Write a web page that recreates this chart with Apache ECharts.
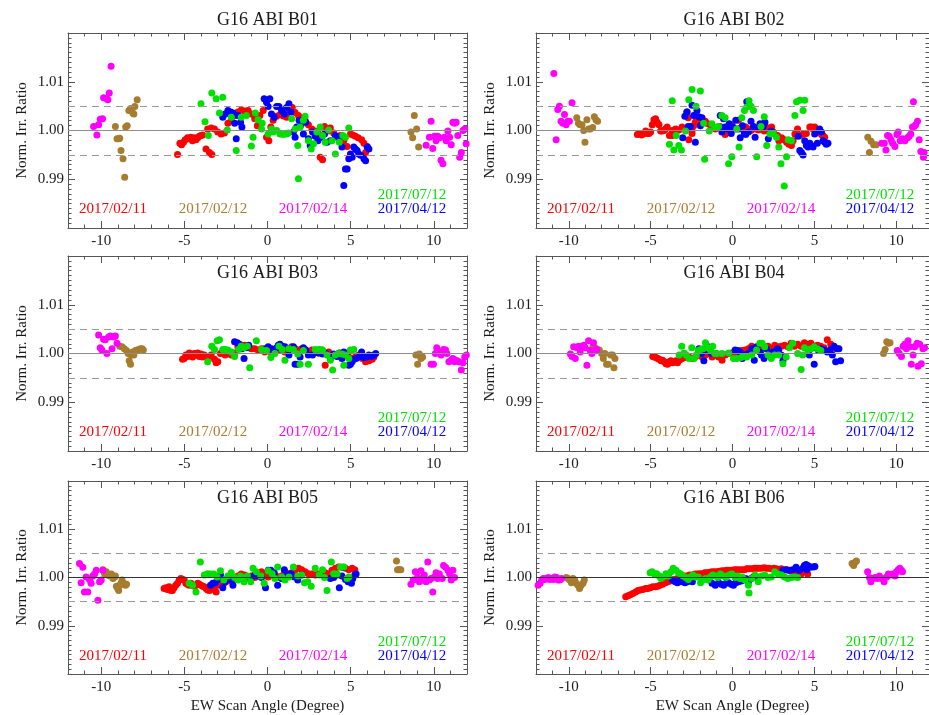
<!DOCTYPE html>
<html>
<head>
<meta charset="utf-8">
<script src="https://cdn.jsdelivr.net/npm/echarts@6/dist/echarts.min.js"></script>
<style>
html, body { margin: 0; padding: 0; background: #fff; }
#main { width: 929px; height: 715px; }
</style>
</head>
<body>
<div id="main"></div>
<script>
// axes / labels
var xTicks = [-10, -5, 0, 5, 10];
var xRange = [-12, 12];
var yRange = [0.98, 1.02];
var refLevels = [1.0, 1.005, 0.995];
var bands = ['G16 ABI B01', 'G16 ABI B02', 'G16 ABI B03', 'G16 ABI B04', 'G16 ABI B05', 'G16 ABI B06'];
var dates = ['2017/02/11', '2017/02/12', '2017/02/14', '2017/04/12', '2017/07/12'];
var dateColors = ['#ff0000', '#a67c2e', '#ff00ff', '#0000ff', '#00e000'];

// ---- B01 ----
var b01_0211 = [[-5.41,0.9951],[-5.27,0.9974],[-5.17,0.9971],[-5.05,0.9976],[-4.95,0.9981],[-4.81,0.9985],[-4.71,0.9983],[-4.61,0.9986],[-4.51,0.9979],[-4.40,0.9985],[-4.30,0.9981],[-4.20,0.9985],[-4.10,0.9988],[-4.00,0.9990],[-3.90,0.9991],[-3.70,0.9962],[-3.49,0.9955],[-3.35,0.9951],[-3.60,1.0003],[-3.39,1.0005],[-3.19,1.0003],[-2.99,0.9997],[-2.79,0.9993],[-2.59,0.9995],[-2.38,1.0015],[-2.18,1.0021],[-1.98,1.0031],[-1.78,1.0038],[-1.58,1.0042],[-1.37,1.0040],[-1.17,1.0041],[-0.97,1.0034],[-0.77,1.0024],[-0.61,1.0010],[-0.46,1.0031],[-0.26,1.0041],[-0.06,0.9986],[0.08,0.9979],[0.20,1.0007],[0.34,1.0021],[0.55,1.0029],[0.75,1.0033],[0.95,1.0030],[1.15,1.0027],[1.35,1.0041],[1.49,1.0047],[1.66,1.0037],[1.86,1.0031],[2.06,1.0026],[2.26,1.0021],[2.46,1.0012],[2.67,1.0003],[2.87,0.9999],[3.07,0.9993],[3.17,0.9945],[3.31,0.9940],[3.43,1.0008],[3.64,0.9999],[3.78,1.0005],[3.98,0.9995],[4.18,0.9986],[4.38,0.9990],[4.59,0.9979],[4.79,0.9967],[4.99,0.9993],[5.13,0.9991],[5.29,0.9988],[5.45,0.9985],[5.66,0.9981],[5.80,0.9974],[5.90,0.9955],[6.00,0.9967]];
var b01_0212 = [[-9.15,1.0008],[-9.05,0.9983],[-8.95,0.9983],[-8.89,0.9984],[-8.81,0.9959],[-8.69,0.9942],[-8.59,0.9904],[-8.53,1.0007],[-8.44,1.0010],[-8.34,1.0041],[-8.24,1.0045],[-8.10,1.0036],[-8.04,1.0034],[-7.98,1.0049],[-7.84,1.0063],[8.63,0.9997],[8.73,0.9985],[8.83,1.0031],[8.97,1.0003],[9.09,0.9966]];
var b01_0214 = [[-10.46,1.0008],[-10.26,0.9991],[-10.16,1.0012],[-10.06,1.0023],[-9.92,1.0024],[-9.86,1.0067],[-9.66,1.0065],[-9.60,1.0063],[-9.52,1.0077],[-9.41,1.0132],[9.54,0.9970],[9.74,0.9986],[9.84,1.0019],[9.94,0.9963],[10.04,0.9988],[10.14,0.9979],[10.24,0.9988],[10.34,0.9985],[10.44,0.9939],[10.55,0.9932],[10.65,0.9986],[10.75,0.9979],[10.85,0.9999],[10.95,0.9986],[11.05,0.9971],[11.15,1.0017],[11.25,1.0015],[11.35,1.0017],[11.45,0.9990],[11.56,0.9945],[11.66,0.9955],[11.76,1.0000],[11.86,1.0003],[11.95,0.9973]];
var b01_0412 = [[-2.69,1.0027],[-2.55,1.0034],[-2.38,1.0041],[-2.22,1.0038],[-2.08,1.0036],[-1.98,1.0015],[-1.88,0.9983],[-1.78,1.0031],[-1.62,1.0017],[-1.54,1.0007],[-0.20,1.0065],[-0.06,1.0058],[0.04,1.0049],[0.14,1.0065],[0.24,1.0034],[0.40,1.0027],[0.55,1.0049],[0.69,1.0049],[0.85,1.0041],[1.01,1.0034],[1.15,1.0047],[1.29,1.0055],[1.41,1.0038],[1.56,0.9997],[1.66,0.9986],[1.76,1.0007],[1.90,1.0021],[2.02,1.0012],[2.16,0.9993],[2.30,1.0017],[2.46,0.9983],[2.57,0.9969],[2.71,0.9997],[2.87,0.9988],[3.03,0.9979],[3.17,0.9985],[3.27,0.9988],[3.43,0.9993],[3.58,0.9976],[3.78,0.9979],[4.08,0.9990],[4.28,0.9986],[4.48,0.9966],[4.69,0.9921],[4.79,0.9921],[4.89,0.9942],[4.99,0.9952],[5.09,0.9945],[5.19,0.9966],[5.29,0.9962],[5.39,0.9959],[5.49,0.9952],[5.60,0.9949],[5.80,0.9942],[5.90,0.9938],[6.00,0.9966],[6.10,0.9962],[4.59,0.9887]];
var b01_0712 = [[-4.00,1.0055],[-3.76,1.0018],[-3.56,0.9990],[-3.35,1.0077],[-3.09,1.0065],[-2.89,1.0036],[-2.69,1.0068],[-2.42,1.0001],[-2.18,1.0027],[-1.88,0.9959],[-1.58,1.0027],[-1.27,1.0031],[-0.97,0.9968],[-0.87,0.9986],[-0.73,1.0036],[-0.57,1.0022],[-0.36,1.0003],[-0.32,1.0015],[0.04,0.9993],[0.24,1.0003],[0.34,0.9997],[0.55,1.0000],[0.75,0.9993],[0.95,0.9992],[1.15,0.9993],[1.25,0.9995],[1.45,1.0024],[1.66,1.0003],[1.82,0.9969],[1.96,1.0007],[2.16,1.0021],[2.26,1.0029],[2.46,0.9979],[2.63,0.9962],[2.77,0.9973],[2.97,0.9997],[3.17,1.0007],[3.31,0.9990],[3.47,0.9976],[3.68,1.0001],[3.88,0.9979],[4.08,0.9952],[4.32,0.9976],[4.53,0.9990],[4.69,0.9986],[4.89,1.0005],[1.86,0.9901]];

// ---- B02 ----
var b02_0211 = [[-5.81,0.9992],[-5.67,0.9994],[-5.55,0.9991],[-5.40,0.9994],[-5.30,0.9999],[-5.20,0.9994],[-5.10,0.9994],[-5.00,0.9997],[-4.90,1.0012],[-4.80,1.0022],[-4.70,1.0024],[-4.60,1.0017],[-4.49,1.0012],[-4.39,0.9999],[-4.29,0.9999],[-4.19,1.0000],[-4.09,1.0003],[-3.99,1.0007],[-3.85,0.9990],[-3.68,1.0000],[-3.48,1.0003],[-3.28,1.0001],[-3.08,1.0007],[-2.87,1.0003],[-2.77,1.0038],[-2.71,1.0026],[-2.63,1.0003],[-2.47,1.0000],[-2.37,1.0010],[-2.27,1.0017],[-2.17,1.0021],[-2.06,1.0024],[-1.96,1.0026],[-1.86,1.0021],[-1.76,1.0019],[-1.66,1.0019],[-1.50,1.0014],[-1.36,1.0012],[-1.21,1.0008],[-1.05,1.0003],[-0.89,1.0007],[-0.75,1.0008],[-0.61,1.0001],[-0.45,0.9992],[-0.24,1.0007],[-0.04,1.0012],[0.16,1.0003],[0.36,1.0021],[0.53,1.0006],[0.67,1.0001],[0.81,1.0007],[0.97,1.0003],[1.13,1.0000],[1.28,1.0007],[1.42,1.0003],[1.58,1.0001],[1.78,1.0003],[1.94,0.9999],[2.09,1.0006],[2.23,1.0000],[2.39,1.0007],[2.49,0.9997],[2.63,0.9991],[2.75,0.9990],[2.83,0.9979],[3.00,0.9985],[3.16,0.9981],[3.30,0.9976],[3.44,0.9972],[3.60,0.9969],[3.70,0.9979],[3.81,0.9993],[3.97,1.0003],[4.11,0.9990],[4.31,0.9993],[4.51,0.9994],[4.72,1.0007],[4.82,1.0007],[4.92,1.0003],[5.02,1.0007],[5.22,0.9999],[5.32,0.9997],[5.43,0.9992],[5.53,0.9990],[5.63,0.9986],[-2.67,0.9981],[-2.47,0.9994],[-3.68,0.9990]];
var b02_0212 = [[-9.51,1.0026],[-9.41,1.0015],[-9.31,1.0012],[-9.19,1.0012],[-9.09,1.0000],[-9.01,0.9976],[-8.89,1.0022],[-8.79,1.0003],[-8.68,1.0003],[-8.54,1.0006],[-8.44,1.0028],[-8.34,1.0022],[-8.24,1.0019],[8.26,0.9986],[8.36,0.9955],[8.46,0.9978],[8.62,0.9971],[8.77,0.9971]];
var b02_0214 = [[-10.91,1.0117],[-10.77,0.9981],[-10.67,1.0043],[-10.57,1.0050],[-10.47,1.0019],[-10.36,1.0015],[-10.26,1.0033],[-10.16,1.0012],[-10.06,1.0019],[-9.96,1.0019],[-9.80,1.0057],[9.11,0.9974],[9.27,0.9974],[9.37,0.9960],[9.47,0.9990],[9.57,0.9988],[9.68,0.9981],[9.78,0.9974],[9.92,0.9967],[10.04,0.9992],[10.12,0.9997],[10.24,0.9979],[10.38,0.9983],[10.53,0.9979],[10.69,0.9985],[10.79,0.9988],[10.89,0.9993],[10.99,1.0007],[11.09,1.0008],[11.19,1.0012],[11.30,1.0019],[11.05,1.0059],[11.40,0.9981],[11.50,0.9957],[11.66,0.9945],[11.70,0.9955]];
var b02_0412 = [[-3.04,0.9985],[-2.91,1.0029],[-2.79,1.0038],[-2.71,1.0008],[-2.57,1.0008],[-2.47,1.0052],[-2.37,1.0031],[-2.27,0.9976],[-2.17,1.0041],[-2.06,1.0028],[-1.96,1.0010],[-1.86,1.0026],[-0.75,1.0031],[-0.65,0.9997],[-0.55,1.0024],[-0.45,1.0007],[-0.28,1.0003],[-0.20,1.0014],[-0.08,0.9994],[0.06,1.0006],[0.20,1.0021],[0.36,1.0003],[0.47,0.9985],[0.61,1.0010],[0.73,0.9994],[0.81,0.9992],[0.87,1.0059],[0.97,0.9997],[1.13,1.0019],[1.28,1.0008],[1.38,0.9986],[1.58,1.0006],[1.68,1.0014],[1.88,1.0008],[1.98,1.0017],[2.19,0.9983],[2.35,0.9999],[4.01,0.9988],[4.11,0.9959],[4.21,0.9955],[4.31,0.9950],[4.41,0.9979],[4.51,0.9969],[4.62,0.9966],[4.72,0.9974],[4.82,0.9969],[4.92,0.9966],[5.02,0.9993],[5.18,0.9974],[5.32,1.0003],[5.43,0.9997],[5.53,0.9979],[5.63,0.9976],[5.73,0.9972],[5.83,0.9974]];
var b02_0712 = [[-3.85,0.9972],[-3.68,1.0061],[-3.58,0.9960],[-3.44,0.9990],[-3.28,0.9969],[-3.12,0.9960],[-2.87,0.9999],[-2.67,1.0063],[-2.47,1.0084],[-2.23,1.0050],[-1.96,1.0081],[-1.76,1.0015],[-1.70,0.9941],[-1.42,0.9999],[-1.26,1.0014],[-1.09,1.0006],[-0.85,1.0008],[-0.65,1.0031],[-0.45,1.0026],[-0.24,0.9932],[-0.04,0.9946],[0.26,1.0003],[0.40,0.9966],[0.57,1.0026],[0.73,1.0041],[0.87,1.0048],[1.01,1.0061],[1.13,1.0050],[1.28,1.0041],[1.48,0.9946],[1.74,1.0008],[1.94,1.0028],[2.09,0.9969],[2.29,0.9993],[2.49,0.9994],[2.69,0.9986],[2.83,0.9966],[2.96,0.9932],[3.16,0.9886],[3.30,0.9946],[3.40,0.9981],[3.60,0.9979],[3.81,1.0031],[3.91,1.0059],[4.11,1.0062],[4.31,1.0041],[4.41,1.0062]];

// ---- B03 ----
var b03_0211 = [[-5.11,0.9988],[-5.01,0.9990],[-4.91,0.9997],[-4.81,0.9994],[-4.71,1.0001],[-4.61,0.9999],[-4.51,0.9993],[-4.40,1.0000],[-4.30,0.9997],[-4.20,1.0001],[-4.10,0.9994],[-4.00,0.9999],[-3.90,0.9993],[-3.80,0.9997],[-3.60,0.9992],[-3.39,0.9997],[-3.19,0.9988],[-3.09,0.9981],[-2.99,0.9983],[-2.83,1.0000],[-2.69,1.0001],[-2.55,0.9997],[-2.38,1.0003],[-2.18,0.9997],[-1.98,1.0001],[-1.78,1.0014],[-1.58,1.0015],[-1.37,1.0017],[-1.17,1.0014],[-0.97,1.0010],[-0.77,1.0010],[-0.57,1.0007],[-0.36,1.0010],[-0.16,1.0003],[0.04,1.0007],[0.24,1.0001],[0.44,1.0003],[0.65,1.0006],[0.85,1.0007],[1.05,1.0003],[1.25,1.0010],[1.45,1.0014],[1.66,1.0010],[1.86,1.0007],[2.06,1.0010],[2.26,1.0007],[2.46,1.0003],[2.67,1.0007],[2.87,1.0003],[3.07,1.0001],[3.27,1.0007],[3.47,0.9976],[3.58,1.0000],[3.68,1.0003],[3.88,0.9997],[4.08,0.9997],[4.28,1.0000],[4.48,0.9997],[4.69,1.0001],[4.89,0.9993],[5.09,0.9990],[5.29,0.9993],[5.49,0.9997],[5.70,0.9990],[5.90,0.9983],[6.10,0.9985],[6.30,0.9988],[6.40,0.9993]];
var b03_0212 = [[-8.89,1.0015],[-8.75,1.0014],[-8.61,1.0010],[-8.48,1.0006],[-8.38,1.0000],[-8.32,0.9985],[-8.24,0.9978],[-8.18,0.9997],[-8.10,1.0003],[-8.04,0.9997],[-7.94,1.0006],[-7.84,1.0007],[-7.74,1.0008],[-7.64,1.0010],[-7.54,1.0010],[-7.47,1.0007],[8.93,0.9997],[9.03,0.9978],[9.13,0.9999],[9.23,0.9990],[9.33,0.9993]];
var b03_0214 = [[-10.16,1.0038],[-10.06,1.0012],[-9.96,1.0007],[-9.86,1.0029],[-9.76,1.0028],[-9.66,1.0000],[-9.56,1.0034],[-9.45,1.0036],[-9.35,1.0010],[-9.25,1.0034],[-9.15,1.0036],[-9.05,1.0021],[9.84,0.9978],[9.98,0.9978],[10.10,1.0000],[10.18,1.0012],[10.30,1.0003],[10.44,0.9997],[10.59,1.0008],[10.71,1.0007],[10.79,1.0000],[10.91,0.9983],[11.05,0.9986],[11.15,0.9990],[11.25,0.9983],[11.35,0.9986],[11.52,0.9983],[11.66,0.9966],[11.76,0.9981],[11.86,0.9993],[11.96,0.9997]];
var b03_0412 = [[-1.98,1.0024],[-1.82,1.0022],[-1.68,1.0019],[-1.54,1.0010],[-1.41,0.9990],[-1.27,1.0012],[-1.13,1.0017],[-0.16,1.0010],[0.04,1.0014],[0.24,1.0010],[0.34,1.0007],[0.55,1.0012],[0.65,1.0017],[0.75,1.0019],[0.89,1.0015],[1.05,1.0014],[1.29,0.9997],[1.56,1.0014],[1.66,0.9978],[1.82,0.9978],[1.96,0.9993],[2.16,1.0012],[2.30,1.0007],[2.46,0.9997],[2.71,0.9997],[2.87,1.0003],[3.07,1.0001],[3.31,0.9999],[3.52,1.0000],[3.78,0.9990],[3.98,0.9999],[4.18,0.9994],[4.32,1.0001],[4.48,0.9990],[4.59,1.0003],[4.73,0.9997],[4.89,0.9976],[4.99,0.9978],[5.09,0.9983],[5.19,0.9988],[5.33,0.9990],[5.49,0.9993],[5.66,1.0003],[5.80,0.9992],[5.94,0.9993],[6.10,0.9997],[6.26,0.9994],[6.40,0.9997],[6.51,1.0000]];
var b03_0712 = [[-3.60,0.9983],[-3.35,1.0015],[-3.19,1.0008],[-3.03,1.0026],[-2.89,1.0028],[-2.69,1.0008],[-2.55,1.0008],[-2.38,1.0007],[-2.18,1.0003],[-1.98,0.9994],[-1.74,1.0008],[-1.58,1.0015],[-1.41,1.0012],[-1.21,1.0015],[-1.07,0.9971],[-0.67,1.0026],[-0.36,1.0008],[-0.06,1.0006],[0.20,0.9992],[0.44,1.0000],[0.69,1.0015],[0.89,1.0008],[1.05,0.9986],[1.29,1.0010],[1.56,1.0008],[1.82,0.9999],[1.96,0.9978],[2.16,1.0006],[2.46,0.9978],[2.87,1.0008],[3.11,1.0008],[3.31,1.0007],[3.58,0.9997],[3.78,0.9986],[3.92,0.9966],[4.08,0.9997],[4.28,1.0000],[4.48,0.9999],[4.69,0.9997],[4.89,0.9990],[4.99,1.0007],[5.19,1.0008],[4.59,0.9976]];

// ---- B04 ----
var b04_0211 = [[-4.87,0.9994],[-4.77,0.9993],[-4.67,0.9992],[-4.57,0.9990],[-4.47,0.9988],[-4.37,0.9985],[-4.27,0.9986],[-4.16,0.9983],[-4.06,0.9979],[-3.96,0.9978],[-3.86,0.9983],[-3.76,0.9985],[-3.66,0.9981],[-3.56,0.9983],[-3.46,0.9985],[-3.36,0.9981],[-3.26,0.9986],[-3.16,0.9988],[-3.06,0.9990],[-2.86,0.9992],[-2.66,0.9993],[-2.45,0.9990],[-2.25,0.9994],[-2.05,0.9997],[-1.85,0.9993],[-1.65,0.9997],[-1.45,1.0000],[-1.25,0.9993],[-1.05,0.9997],[-0.85,0.9993],[-0.64,0.9986],[-0.44,0.9997],[-0.24,1.0000],[-0.04,1.0001],[0.16,1.0000],[0.36,0.9999],[0.56,1.0006],[0.76,1.0007],[0.97,1.0010],[1.17,1.0015],[1.37,1.0012],[1.57,1.0007],[1.77,1.0010],[1.97,1.0012],[2.17,1.0015],[2.37,1.0010],[2.58,1.0017],[2.78,1.0014],[2.98,1.0015],[3.18,1.0017],[3.38,1.0014],[3.58,1.0021],[3.78,1.0015],[3.98,1.0019],[4.19,1.0015],[4.39,1.0022],[4.59,1.0019],[4.79,1.0021],[4.99,1.0015],[5.19,1.0017],[5.39,1.0015],[5.59,1.0012],[5.79,1.0028],[6.00,1.0019],[6.20,1.0014],[6.30,1.0010]];
var b04_0212 = [[-8.53,1.0014],[-8.39,1.0012],[-8.25,1.0008],[-8.13,1.0007],[-7.99,1.0000],[-7.89,0.9990],[-7.79,1.0000],[-7.69,0.9978],[-7.59,0.9978],[-7.44,0.9997],[-7.32,0.9997],[-7.24,0.9971],[-7.18,0.9990],[9.22,1.0000],[9.32,1.0008],[9.42,1.0024],[9.52,1.0021],[9.62,1.0022]];
var b04_0214 = [[-9.90,0.9999],[-9.80,0.9994],[-9.70,1.0014],[-9.60,0.9990],[-9.50,1.0012],[-9.40,1.0015],[-9.30,1.0003],[-9.20,1.0014],[-9.09,1.0017],[-8.99,1.0012],[-8.89,0.9976],[-8.79,1.0026],[-8.69,1.0006],[-8.59,1.0000],[-8.49,1.0022],[-8.39,1.0007],[-8.29,1.0008],[10.06,1.0006],[10.18,1.0000],[10.32,0.9994],[10.42,1.0015],[10.52,1.0019],[10.62,1.0010],[10.72,1.0026],[10.82,1.0014],[10.92,0.9978],[11.03,0.9997],[11.13,1.0014],[11.27,1.0021],[11.33,0.9974],[11.43,1.0019],[11.53,0.9979],[11.63,1.0010],[11.73,1.0012]];
var b04_0412 = [[-2.05,1.0010],[-1.89,1.0000],[-1.75,0.9985],[-1.61,1.0007],[-1.49,1.0014],[-1.35,1.0003],[-1.25,1.0000],[0.16,1.0007],[0.32,1.0006],[0.46,1.0003],[0.60,0.9990],[0.76,0.9997],[0.97,1.0000],[1.17,1.0010],[1.33,0.9986],[1.47,1.0014],[1.67,1.0003],[1.77,0.9997],[1.93,0.9990],[2.07,1.0010],[2.27,1.0000],[2.47,1.0003],[2.74,1.0010],[2.82,1.0007],[2.98,0.9997],[3.08,0.9985],[4.69,0.9997],[4.89,1.0012],[4.99,0.9978],[5.09,1.0012],[5.23,1.0007],[5.39,1.0010],[5.59,1.0007],[5.79,1.0003],[5.96,1.0007],[6.10,0.9997],[6.20,1.0015],[6.30,0.9983],[6.40,1.0010],[6.50,1.0010],[6.60,0.9985]];
var b04_0712 = [[-3.26,0.9997],[-3.10,1.0015],[-2.96,1.0001],[-2.82,0.9997],[-2.66,0.9990],[-2.49,1.0012],[-2.35,0.9990],[-2.21,0.9997],[-2.09,1.0006],[-1.95,1.0008],[-1.81,1.0010],[-1.65,1.0022],[-1.49,1.0012],[-1.35,1.0007],[-1.21,1.0015],[-1.09,1.0000],[-0.95,1.0000],[-0.64,1.0000],[-0.24,1.0001],[0.06,0.9990],[0.26,0.9990],[0.52,0.9992],[0.72,0.9994],[0.87,0.9993],[1.17,0.9997],[1.47,1.0007],[1.67,1.0021],[1.81,1.0021],[1.97,1.0014],[2.17,0.9997],[2.37,0.9990],[2.58,0.9997],[2.82,0.9997],[3.08,0.9979],[3.28,0.9993],[3.48,1.0012],[3.68,1.0021],[3.98,1.0000],[4.19,0.9967],[4.39,1.0012],[4.59,1.0007],[4.79,1.0010],[4.99,1.0014],[5.19,1.0010],[5.39,1.0006],[4.29,0.9997]];

// ---- B05 ----
var b05_0211 = [[-6.22,0.9977],[-6.12,0.9979],[-6.02,0.9975],[-5.92,0.9981],[-5.82,0.9973],[-5.72,0.9973],[-5.62,0.9979],[-5.52,0.9984],[-5.41,0.9988],[-5.31,0.9995],[-5.21,0.9998],[-5.11,0.9996],[-5.01,0.9995],[-4.91,0.9988],[-4.81,0.9986],[-4.71,0.9984],[-4.61,0.9988],[-4.51,0.9984],[-4.40,0.9982],[-4.30,0.9984],[-4.20,0.9988],[-4.10,0.9986],[-4.00,0.9984],[-3.90,0.9982],[-3.80,0.9981],[-3.70,0.9977],[-3.60,0.9974],[-3.49,0.9973],[-3.39,0.9975],[-3.19,0.9981],[-3.09,0.9970],[-2.99,0.9984],[-2.79,0.9988],[-2.59,0.9989],[-2.38,0.9993],[-2.18,0.9998],[-1.98,0.9996],[-1.78,1.0003],[-1.58,1.0007],[-1.37,1.0005],[-1.17,1.0001],[-0.97,1.0003],[-0.77,1.0000],[-0.57,1.0008],[-0.36,1.0012],[-0.16,1.0007],[0.04,1.0001],[0.24,1.0010],[0.44,1.0005],[0.65,1.0001],[0.85,1.0003],[1.05,1.0012],[1.25,1.0008],[1.45,1.0010],[1.66,1.0015],[1.86,1.0019],[2.06,1.0016],[2.26,1.0012],[2.46,1.0008],[2.67,1.0007],[2.87,1.0005],[3.07,1.0007],[3.27,1.0008],[3.47,1.0010],[3.68,1.0007],[3.88,1.0015],[4.08,1.0019],[4.28,1.0022],[4.48,1.0021],[4.69,1.0019],[4.89,1.0016],[5.09,1.0019],[5.25,1.0016]];
var b05_0212 = [[-9.90,1.0016],[-9.80,1.0008],[-9.70,1.0012],[-9.60,1.0005],[-9.49,1.0003],[-9.39,1.0007],[-9.29,0.9998],[-9.19,1.0001],[-9.15,1.0003],[-9.09,0.9982],[-9.01,0.9977],[-8.95,0.9973],[-8.89,0.9984],[-8.81,0.9988],[-8.75,0.9995],[-8.65,0.9988],[-8.55,0.9984],[-8.48,0.9986],[7.76,1.0034],[7.82,1.0016],[7.92,1.0016],[8.02,1.0016]];
var b05_0214 = [[-11.31,1.0029],[-11.21,0.9989],[-11.11,1.0021],[-11.01,0.9970],[-10.91,1.0001],[-10.81,0.9970],[-10.71,0.9996],[-10.61,0.9988],[-10.51,1.0003],[-10.40,1.0007],[-10.30,1.0015],[-10.20,0.9953],[-10.10,0.9991],[-10.00,0.9995],[-9.90,1.0015],[8.63,0.9986],[8.77,0.9995],[8.89,1.0012],[9.03,1.0001],[9.13,0.9991],[9.23,1.0014],[9.33,0.9995],[9.43,1.0005],[9.54,0.9991],[9.64,1.0032],[9.74,0.9995],[9.84,0.9998],[9.94,0.9970],[10.04,1.0001],[10.14,1.0010],[10.24,0.9998],[10.34,1.0007],[10.51,0.9998],[10.59,1.0025],[10.71,1.0021],[10.85,1.0015],[10.95,1.0008],[11.05,0.9995],[11.15,1.0015],[11.25,1.0000]];
var b05_0412 = [[-3.43,0.9984],[-3.29,0.9988],[-3.15,0.9989],[-2.99,0.9996],[-2.83,1.0005],[-2.69,0.9979],[-2.55,0.9991],[-2.38,1.0000],[-2.22,0.9996],[-2.08,0.9984],[-1.17,1.0001],[-0.97,1.0000],[-0.77,1.0005],[-0.57,1.0003],[-0.36,1.0000],[-0.12,0.9979],[0.04,1.0015],[0.20,1.0015],[0.40,1.0010],[0.61,0.9984],[0.85,0.9998],[1.01,1.0016],[1.21,1.0005],[1.41,1.0008],[1.62,1.0001],[1.82,0.9995],[2.06,1.0005],[3.78,0.9998],[3.98,1.0000],[4.18,1.0005],[4.32,0.9979],[4.48,1.0003],[4.59,1.0021],[4.69,0.9996],[4.85,0.9991],[4.99,0.9995],[5.13,0.9998],[5.25,1.0005],[5.33,1.0007],[5.05,0.9988]];
var b05_0712 = [[-4.71,0.9988],[-4.51,0.9984],[-4.30,0.9970],[-4.04,1.0032],[-3.80,1.0005],[-3.60,1.0008],[-3.43,1.0007],[-3.23,1.0007],[-3.03,1.0001],[-2.83,1.0014],[-2.63,0.9995],[-2.38,1.0003],[-2.18,1.0010],[-1.98,1.0000],[-1.78,0.9995],[-1.62,1.0003],[-1.41,0.9991],[-1.21,1.0003],[-1.01,0.9991],[-0.87,1.0019],[-0.67,1.0012],[-0.40,1.0003],[-0.20,0.9988],[0.04,1.0014],[0.28,1.0008],[0.44,0.9998],[0.61,1.0022],[0.85,1.0001],[1.05,0.9995],[1.29,1.0001],[1.56,1.0022],[1.82,1.0003],[2.06,1.0005],[2.22,0.9989],[2.42,0.9991],[2.63,0.9982],[2.87,1.0019],[3.11,1.0005],[3.31,1.0016],[3.43,1.0000],[3.58,0.9973],[3.84,1.0032],[3.98,1.0008],[4.18,1.0007],[4.38,1.0022],[4.59,1.0022],[4.79,0.9998],[4.89,1.0001]];

// ---- B06 ----
var b06_0211 = [[-6.52,0.9960],[-6.38,0.9962],[-6.24,0.9964],[-6.08,0.9967],[-5.92,0.9970],[-5.77,0.9973],[-5.63,0.9974],[-5.47,0.9975],[-5.31,0.9977],[-5.17,0.9977],[-5.03,0.9979],[-4.87,0.9981],[-4.71,0.9981],[-4.57,0.9982],[-4.43,0.9984],[-4.27,0.9986],[-4.10,0.9989],[-3.96,0.9991],[-3.82,0.9993],[-3.66,0.9995],[-3.50,0.9996],[-3.36,0.9998],[-3.22,1.0000],[-3.06,1.0001],[-2.90,1.0003],[-2.76,1.0003],[-2.62,1.0005],[-2.45,1.0005],[-2.29,1.0007],[-2.15,1.0007],[-2.01,1.0008],[-1.85,1.0008],[-1.69,1.0010],[-1.55,1.0010],[-1.41,1.0011],[-1.25,1.0012],[-1.09,1.0012],[-0.95,1.0012],[-0.80,1.0013],[-0.64,1.0014],[-0.48,1.0014],[-0.34,1.0015],[-0.20,1.0015],[-0.04,1.0015],[0.12,1.0016],[0.26,1.0016],[0.40,1.0016],[0.56,1.0016],[0.72,1.0016],[0.87,1.0018],[1.01,1.0018],[1.17,1.0018],[1.33,1.0019],[1.47,1.0019],[1.61,1.0019],[1.77,1.0019],[1.93,1.0020],[2.07,1.0019],[2.21,1.0019],[2.37,1.0018],[2.54,1.0019],[2.68,1.0018],[2.82,1.0016],[2.98,1.0018],[3.14,1.0016],[3.28,1.0016],[3.42,1.0015],[3.58,1.0014],[3.74,1.0014],[3.88,1.0012],[4.02,1.0010],[4.19,1.0007],[4.14,1.0015],[4.39,1.0012],[4.59,1.0007]];
var b06_0212 = [[-10.14,1.0000],[-10.04,0.9998],[-9.94,0.9995],[-9.84,0.9989],[-9.74,0.9998],[-9.64,0.9995],[-9.54,0.9988],[-9.44,0.9984],[-9.34,0.9977],[-9.24,0.9984],[-9.13,0.9988],[-9.05,0.9995],[7.30,1.0029],[7.40,1.0025],[7.50,1.0032],[7.57,1.0034]];
var b06_0214 = [[-11.87,0.9984],[-11.75,0.9988],[-11.65,0.9995],[-11.55,0.9998],[-11.45,0.9996],[-11.35,0.9998],[-11.25,1.0000],[-11.15,0.9996],[-11.05,0.9998],[-10.95,0.9996],[-10.85,1.0001],[-10.74,1.0000],[-10.64,0.9995],[-10.54,0.9995],[-10.44,0.9998],[8.25,1.0012],[8.37,1.0000],[8.45,0.9991],[8.57,0.9998],[8.71,1.0000],[8.85,0.9998],[8.97,1.0003],[9.11,0.9998],[9.26,0.9991],[9.42,1.0001],[9.52,1.0007],[9.62,1.0005],[9.78,1.0007],[9.92,1.0003],[10.02,1.0012],[10.12,1.0016],[10.22,1.0019],[10.32,1.0015],[10.38,1.0012]];
var b06_0412 = [[-3.66,0.9995],[-3.50,0.9991],[-3.36,0.9989],[-3.22,0.9993],[-3.06,0.9991],[-2.90,0.9989],[-2.76,0.9991],[-2.62,0.9995],[-2.45,0.9991],[-1.25,0.9988],[-1.05,0.9984],[-0.85,0.9989],[-0.68,0.9986],[-0.54,0.9984],[-0.40,0.9988],[-0.24,0.9989],[-0.08,0.9986],[0.06,0.9984],[0.20,0.9989],[0.36,0.9991],[0.52,0.9993],[0.66,0.9995],[0.80,0.9998],[0.97,0.9991],[1.13,0.9998],[1.27,1.0001],[1.41,1.0003],[3.08,1.0015],[3.28,1.0016],[3.48,1.0015],[3.68,1.0016],[3.88,1.0021],[4.08,1.0015],[4.29,1.0019],[4.39,1.0025],[4.49,1.0027],[4.59,1.0025],[4.69,1.0022],[4.79,1.0022],[4.95,1.0022],[5.03,1.0023],[4.55,1.0016]];
var b06_0712 = [[-5.03,1.0010],[-4.91,1.0012],[-4.77,1.0007],[-4.63,1.0008],[-4.47,1.0003],[-4.37,0.9998],[-4.23,1.0001],[-4.06,1.0008],[-3.90,1.0003],[-3.76,1.0012],[-3.62,1.0019],[-3.46,1.0015],[-3.30,1.0010],[-3.16,1.0007],[-3.02,1.0003],[-2.86,1.0000],[-2.70,0.9996],[-2.56,1.0001],[-2.41,1.0005],[-2.25,1.0001],[-2.09,1.0001],[-1.95,0.9989],[-1.81,0.9995],[-1.65,0.9998],[-1.49,0.9995],[-1.35,1.0001],[-1.21,1.0005],[-1.05,1.0003],[-0.89,1.0000],[-0.74,1.0007],[-0.54,1.0003],[-0.40,1.0000],[-0.20,1.0005],[-0.04,1.0007],[0.16,1.0000],[0.32,1.0003],[0.46,0.9998],[0.60,1.0001],[0.76,0.9995],[0.97,0.9984],[1.01,0.9968],[1.17,0.9998],[1.37,1.0005],[1.57,0.9991],[1.77,1.0003],[1.97,1.0005],[2.17,1.0000],[2.37,1.0001],[2.58,1.0012],[2.78,1.0007],[2.98,1.0005],[3.18,1.0001],[3.38,0.9998],[3.58,1.0000],[3.78,1.0001],[3.98,1.0000]];

var bandData = [
    [b01_0211, b01_0212, b01_0214, b01_0412, b01_0712],
    [b02_0211, b02_0212, b02_0214, b02_0412, b02_0712],
    [b03_0211, b03_0212, b03_0214, b03_0412, b03_0712],
    [b04_0211, b04_0212, b04_0214, b04_0412, b04_0712],
    [b05_0211, b05_0212, b05_0214, b05_0412, b05_0712],
    [b06_0211, b06_0212, b06_0214, b06_0412, b06_0712]
];

// layout
var W = 929;
var colLeft = [68, 536];
var colRight = [462, -3];
var rowTop = [33, 256, 481];
var rowHeight = [195, 195, 194];
var labelDx = [45, 145, 245, 344, 344];
var labelDy = [19, 19, 19, 19, 33];
var serif = '"Liberation Serif", "DejaVu Serif", serif';
var frameColor = '#555';
var refColor = ['#8c8c8c', '#8c8c8c', '#333'];

var myChart = echarts.init(document.getElementById('main'));

var option = {
    backgroundColor: '#fff',
    animation: false,
    grid: [],
    xAxis: [],
    yAxis: [],
    series: [],
    graphic: []
};

function makeX(g, pos, major, withLabels, name) {
    return {
        gridIndex: g,
        type: 'value',
        position: pos,
        min: xRange[0],
        max: xRange[1],
        interval: 1,
        axisLine: { show: !major, onZero: false, lineStyle: { color: frameColor, width: 1 } },
        axisTick: major
            ? { inside: true, length: 7, customValues: xTicks, lineStyle: { color: frameColor } }
            : { inside: true, length: 3.5, lineStyle: { color: frameColor } },
        axisLabel: withLabels
            ? { customValues: xTicks, color: '#1a1a1a', fontFamily: serif, fontSize: 15, margin: 6 }
            : { show: false },
        splitLine: { show: false },
        name: name || '',
        nameLocation: 'middle',
        nameGap: 25,
        nameTextStyle: { color: '#1a1a1a', fontFamily: serif, fontSize: 15 }
    };
}

function makeY(g, pos, withLabels) {
    return {
        gridIndex: g,
        type: 'value',
        position: pos,
        min: yRange[0],
        max: yRange[1],
        interval: 0.01,
        axisLine: { show: true, onZero: false, lineStyle: { color: frameColor, width: 1 } },
        axisTick: { inside: true, length: 7, lineStyle: { color: frameColor } },
        minorTick: { show: true, splitNumber: 10, length: 3.5, lineStyle: { color: frameColor } },
        axisLabel: withLabels
            ? {
                color: '#1a1a1a', fontFamily: serif, fontSize: 15, margin: 4,
                showMinLabel: false, showMaxLabel: false,
                formatter: function (v) { return v.toFixed(2); }
            }
            : { show: false },
        splitLine: { show: false },
        minorSplitLine: { show: false },
        name: withLabels ? 'Norm. Irr. Ratio' : '',
        nameLocation: 'middle',
        nameGap: 38,
        nameTextStyle: { color: '#1a1a1a', fontFamily: serif, fontSize: 15 }
    };
}

bands.forEach(function (band, p) {
    var col = p % 2, row = Math.floor(p / 2);
    var left = colLeft[col], top = rowTop[row], h = rowHeight[row];
    var w = W - left - colRight[col];
    option.grid.push({ left: left, right: colRight[col], top: top, height: h });

    var xi = option.xAxis.length;
    var axName = row === 2 ? 'EW Scan Angle (Degree)' : '';
    option.xAxis.push(makeX(p, 'bottom', false, true, axName));
    option.xAxis.push(makeX(p, 'bottom', true, false));
    option.xAxis.push(makeX(p, 'top', false, false));
    option.xAxis.push(makeX(p, 'top', true, false));

    var yi = option.yAxis.length;
    option.yAxis.push(makeY(p, 'left', true));
    option.yAxis.push(makeY(p, 'right', false));

    // reference lines
    option.series.push({
        type: 'scatter',
        xAxisIndex: xi,
        yAxisIndex: yi,
        data: [],
        z: 1,
        markLine: {
            silent: true,
            symbol: 'none',
            precision: 4,
            label: { show: false },
            animation: false,
            data: refLevels.map(function (v, k) {
                return {
                    yAxis: v,
                    lineStyle: k === 0
                        ? { color: refColor[row], width: 1.2, type: 'solid' }
                        : { color: '#999', width: 1.2, type: [7, 5] }
                };
            })
        }
    });

    bandData[p].forEach(function (pts, k) {
        option.series.push({
            name: dates[k],
            type: 'scatter',
            xAxisIndex: xi,
            yAxisIndex: yi,
            data: pts,
            symbolSize: 7,
            z: 2,
            itemStyle: { color: dateColors[k], opacity: 1 }
        });
        option.graphic.push({
            type: 'text',
            x: left + labelDx[k],
            y: top + h - labelDy[k],
            silent: true,
            style: {
                text: dates[k],
                fill: dateColors[k],
                font: '15px ' + serif,
                align: 'center',
                verticalAlign: 'middle'
            }
        });
    });

    // panel title
    option.graphic.push({
        type: 'text',
        x: left + w / 2,
        y: row === 0 ? top - 13 : top + 17,
        silent: true,
        style: {
            text: band,
            fill: '#1a1a1a',
            font: '18px ' + serif,
            align: 'center',
            verticalAlign: 'middle'
        }
    });
});

myChart.setOption(option);
</script>
</body>
</html>
